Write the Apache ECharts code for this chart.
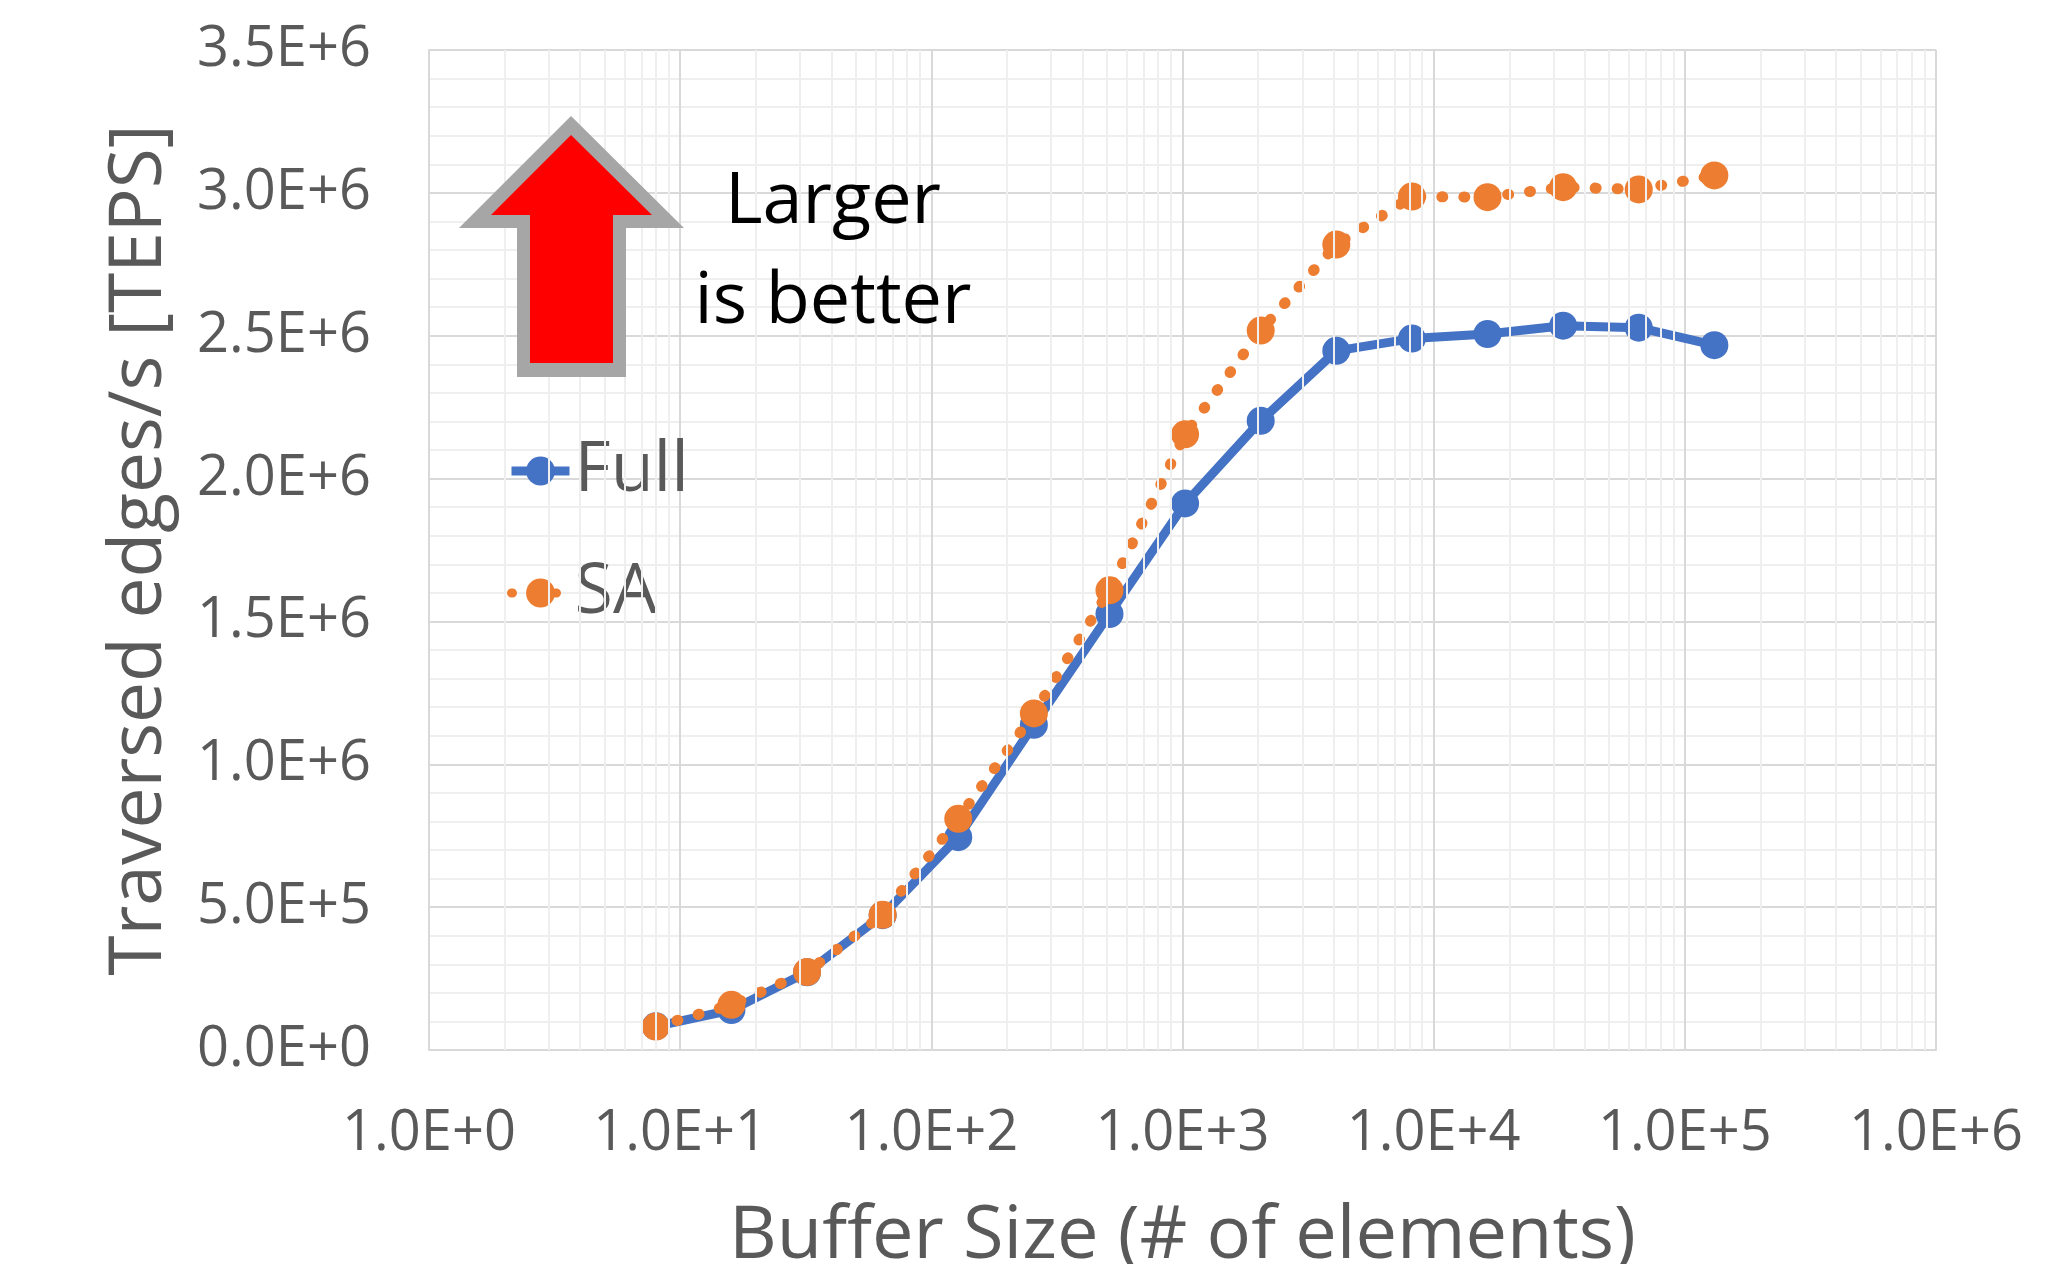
<!DOCTYPE html>
<html>
<head>
<meta charset="utf-8">
<script src="https://cdn.jsdelivr.net/npm/echarts@6/dist/echarts.min.js"></script>
<style>
html,body{margin:0;padding:0;background:#fff;}
#chart{width:2065px;height:1264px;}
</style>
</head>
<body>
<div id="chart"></div>
<script>
// ---- data ----
const bufferSizes = [8, 16, 32, 64, 128, 256, 512, 1024, 2048, 4096, 8192, 16384, 32768, 65536, 131072];
const fullTeps = [83000, 140000, 272000, 472000, 745000, 1138000, 1526000, 1913000, 2202000, 2447000, 2490000, 2506000, 2535000, 2528000, 2467000];
const saTeps = [82000, 158000, 273000, 473000, 809000, 1178000, 1609000, 2155000, 2518000, 2819000, 2987000, 2985000, 3020000, 3012000, 3061000];
const seriesNames = ['Full', 'SA'];
const xAxisTitle = 'Buffer Size (# of elements)';
const yAxisTitle = 'Traversed edges/s [TEPS]';
const noteLines = ['Larger', 'is better'];

const FONT = '"Open Sans", "Noto Sans", sans-serif';
const GRAY = '#595959';

// minor vertical gridline positions (2..9 x 10^k) on the log axis
const minorX = [];
for (let d = 0; d < 6; d++) {
  for (let k = 2; k <= 9; k++) minorX.push(k * Math.pow(10, d));
}

function sci(v) {
  return Number(v).toExponential(1).toUpperCase();
}

const chart = echarts.init(document.getElementById('chart'), null, {renderer: 'canvas'});
chart.setOption({
  animation: false,
  backgroundColor: '#ffffff',
  grid: {left: 429, right: 129, top: 50, bottom: 214, containLabel: false, outerBoundsMode: 'none'},
  xAxis: {
    type: 'log',
    logBase: 10,
    min: 1,
    max: 1000000,
    name: xAxisTitle,
    nameLocation: 'middle',
    nameGap: 150,
    nameTextStyle: {fontFamily: FONT, fontSize: 74, color: GRAY},
    axisLine: {show: true, lineStyle: {color: '#d9d9d9', width: 2}},
    axisTick: {show: false},
    axisLabel: {formatter: sci, fontFamily: FONT, fontSize: 56, color: GRAY, margin: 56},
    splitLine: {show: true, lineStyle: {color: '#d9d9d9', width: 2}}
  },
  yAxis: {
    type: 'value',
    min: 0,
    max: 3500000,
    interval: 500000,
    name: yAxisTitle,
    nameLocation: 'middle',
    nameGap: 252,
    nameRotate: 90,
    nameTextStyle: {fontFamily: FONT, fontSize: 73, color: GRAY},
    axisLine: {show: true, lineStyle: {color: '#d9d9d9', width: 2}},
    axisTick: {show: false},
    axisLabel: {formatter: sci, fontFamily: FONT, fontSize: 56, color: GRAY, margin: 58},
    splitLine: {show: true, lineStyle: {color: '#d9d9d9', width: 2}},
    minorTick: {show: false, splitNumber: 5},
    minorSplitLine: {show: true, lineStyle: {color: '#efefef', width: 2}}
  },
  legend: {
    orient: 'vertical',
    left: 502,
    top: 431,
    itemWidth: 58,
    itemHeight: 36,
    itemGap: 52,
    data: seriesNames,
    lineStyle: {width: 9},
    textStyle: {fontFamily: FONT, fontSize: 70, color: GRAY}
  },
  series: [
    {
      name: '__grid',
      type: 'line',
      data: [],
      z: 0,
      silent: true,
      markLine: {
        silent: true,
        symbol: ['none', 'none'],
        label: {show: false},
        lineStyle: {color: '#efefef', width: 2, type: 'solid'},
        data: minorX.map(v => ({xAxis: v}))
      }
    },
    {
      name: seriesNames[0],
      type: 'line',
      z: 3,
      data: bufferSizes.map((x, i) => [x, fullTeps[i]]),
      symbol: 'circle',
      symbolSize: 28,
      lineStyle: {color: '#4472C4', width: 9},
      itemStyle: {color: '#4472C4'}
    },
    {
      name: seriesNames[1],
      type: 'line',
      z: 4,
      data: bufferSizes.map((x, i) => [x, saTeps[i]]),
      symbol: 'circle',
      symbolSize: 28,
      lineStyle: {color: '#ED7D31', width: 11, type: [1, 21], cap: 'round'},
      itemStyle: {color: '#ED7D31'}
    }
  ],
  graphic: [
    {
      type: 'polygon',
      z: 100,
      shape: {points: [[571, 116], [684, 228], [626, 228], [626, 377], [517, 377], [517, 228], [459, 228]]},
      style: {fill: '#a6a6a6'}
    },
    {
      type: 'polygon',
      z: 101,
      shape: {points: [[571, 135], [652, 215], [613, 215], [613, 363], [530, 363], [530, 215], [491, 215]]},
      style: {fill: '#ff0000'}
    },
    {
      type: 'text',
      z: 102,
      x: 833, y: 202,
      style: {text: noteLines[0], font: '72px ' + FONT, fill: '#000000', textAlign: 'center', textVerticalAlign: 'middle'}
    },
    {
      type: 'text',
      z: 102,
      x: 833, y: 302,
      style: {text: noteLines[1], font: '72px ' + FONT, fill: '#000000', textAlign: 'center', textVerticalAlign: 'middle'}
    }
  ]
});
</script>
</body>
</html>
